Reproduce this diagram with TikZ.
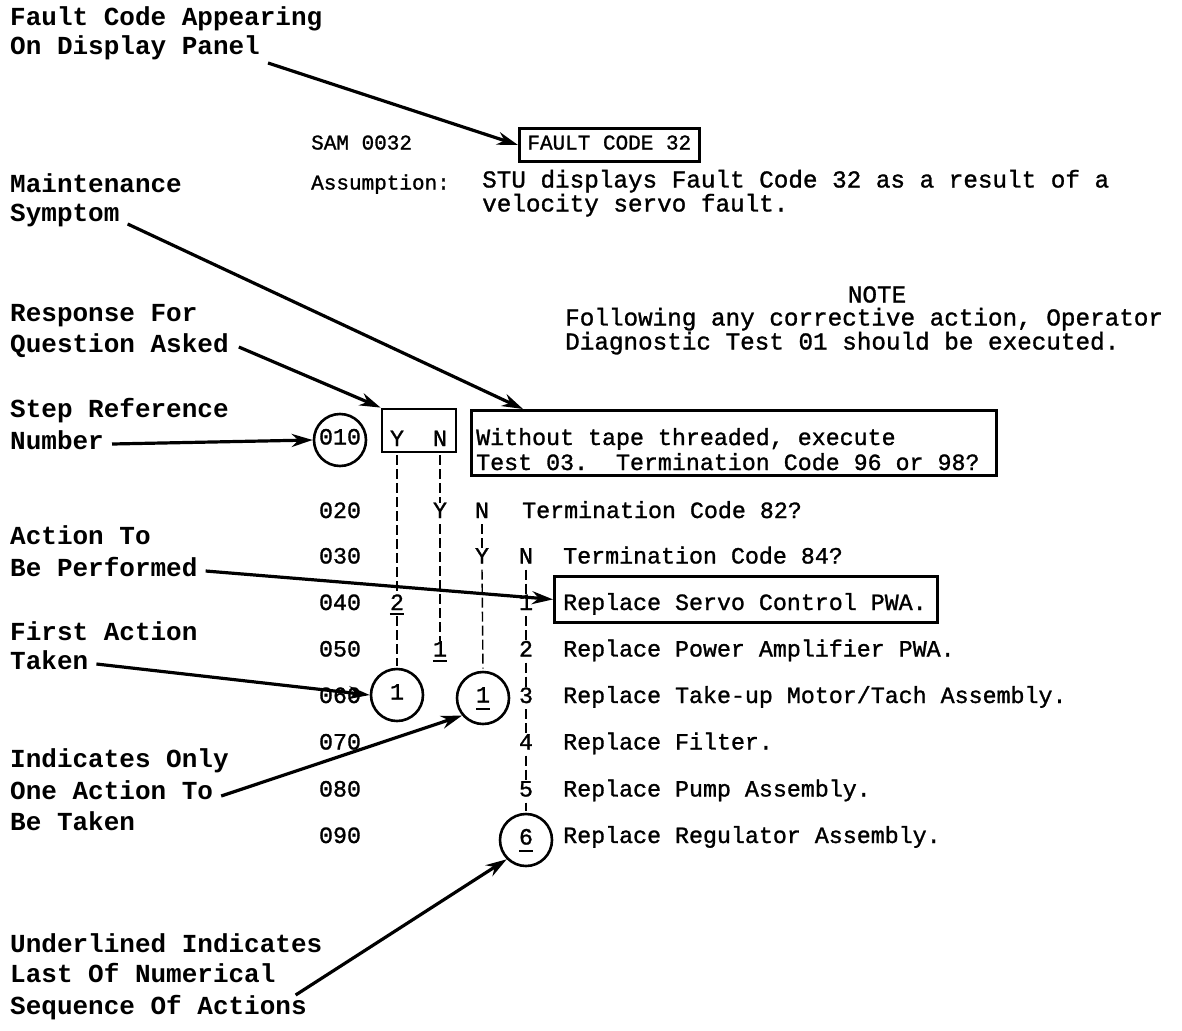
\documentclass[tikz,border=0pt]{standalone}
\usepackage{fontspec}
\newfontfamily\typ{Liberation Mono}
\newfontfamily\typm{Liberation Mono}[FakeBold=1.2]
\usetikzlibrary{arrows.meta}
\begin{document}
\frenchspacing
\begin{tikzpicture}[x=1pt,y=-1pt,
  lab/.style={font=\fontsize{26}{30}\selectfont\typ\bfseries, anchor=west, inner sep=0pt, text height=15pt, text depth=4pt},
  txt/.style={font=\fontsize{23.3}{25}\selectfont\typm, inner sep=0pt, text height=13pt, text depth=4pt},
  ltxt/.style={txt, anchor=west},
  htxt/.style={ltxt, font=\fontsize{24.3}{25}\selectfont\typm, text height=12pt, text depth=3pt},
  stxt/.style={ltxt, font=\fontsize{21}{25}\selectfont\typm},
  arr/.style={line width=3.2pt, -{Stealth[length=21pt,width=13pt]}},
  dl/.style={line width=1.4pt, dash pattern=on 10pt off 4pt, shorten <=2pt, shorten >=2pt},
  ring/.style={txt, circle, draw, line width=2.6pt, minimum size=52pt, inner sep=0pt},
  boxd/.style={draw, line width=2.8pt},
  ul/.style={line width=2pt}
]
\useasboundingbox[fill=white] (0,0) rectangle (1182,1030);

% ---- left labels
\node[lab] (fa1) at (10,20) {Fault Code Appearing};
\node[lab] (fa2) at (10,49) {On Display Panel};
\node[lab] (ms1) at (10,187) {Maintenance};
\node[lab] (ms2) at (10,216) {Symptom};
\node[lab] (rq1) at (10,316) {Response For};
\node[lab] (rq2) at (10,347) {Question Asked};
\node[lab] (sr1) at (10,412) {Step Reference};
\node[lab] (sr2) at (10,444) {Number};
\node[lab] (ap1) at (10,539) {Action To};
\node[lab] (ap2) at (10,571) {Be Performed};
\node[lab] (ft1) at (10,635) {First Action};
\node[lab] (ft2) at (10,664) {Taken};
\node[lab] (io1) at (10,762) {Indicates Only};
\node[lab] (io2) at (10,794) {One Action To};
\node[lab] (io3) at (10,825) {Be Taken};
\node[lab] (ul1) at (10,947) {Underlined Indicates};
\node[lab] (ul2) at (10,977) {Last Of Numerical};
\node[lab] (ul3) at (10,1009) {Sequence Of Actions};

% ---- header
\node[stxt] (sam) at (311,145) {SAM 0032};
\node[stxt, boxd, inner xsep=8pt, inner ysep=8pt] (fc) at (518,145) {FAULT CODE 32};
\node[stxt] (asm) at (311,185) {Assumption:};
\node[htxt] (stu1) at (482,183) {STU displays Fault Code 32 as a result of a};
\node[htxt] (stu2) at (482,207) {velocity servo fault.};
\node[htxt, anchor=center] (note) at (877,298) {NOTE};
\node[htxt] (fol1) at (565,321) {Following any corrective action, Operator};
\node[htxt] (fol2) at (565,345) {Diagnostic Test 01 should be executed.};

% ---- step 010
\node[ring] (c010) at (340,440) {010};
\node[boxd, minimum width=74pt, minimum height=43pt, inner sep=0pt] (yn) at (419,430.5) {};
\node[txt] (y010) at (397,441.5) {Y};
\node[txt] (n010) at (440,441.5) {N};
\node[boxd, minimum width=525pt, minimum height=65pt, anchor=north west, inner sep=0pt] (q010) at (470,409) {};
\node[ltxt] (q1) at (476,440.5) {Without tape threaded, execute};
\node[ltxt] (q2) at (476,465.5) {Test 03.~ Termination Code 96 or 98?};

% ---- step 020
\node[txt] (s020) at (340,513.5) {020};
\node[txt] (y020) at (440,513.5) {Y};
\node[txt] (n020) at (482,513.5) {N};
\node[ltxt] (t020) at (522,513.5) {Termination Code 82?};

% ---- step 030
\node[txt] (s030) at (340,559) {030};
\node[txt] (y030) at (482,559) {Y};
\node[txt] (n030) at (526,559) {N};
\node[ltxt] (t030) at (563,559) {Termination Code 84?};

% ---- step 040
\node[txt] (s040) at (340,605.5) {040};
\node[txt] (a040a) at (397,605.5) {2};
\node[txt] (a040d) at (526,605.5) {1};
\node[boxd, minimum width=383pt, minimum height=46pt, anchor=north west, inner sep=0pt] (r040) at (553,575) {};
\node[ltxt] (t040) at (563,605.5) {Replace Servo Control PWA.};

% ---- step 050
\node[txt] (s050) at (340,652) {050};
\node[txt] (a050b) at (440,652) {1};
\node[txt] (a050d) at (526,652) {2};
\node[ltxt] (t050) at (563,652) {Replace Power Amplifier PWA.};

% ---- step 060
\node[txt] (s060) at (340,698.5) {060};
\node[ring] (c060a) at (397,695) {1};
\node[ring] (c060b) at (483,698) {1};
\node[txt] (a060d) at (526,698.5) {3};
\node[ltxt] (t060) at (563,698.5) {Replace Take-up Motor/Tach Assembly.};

% ---- step 070
\node[txt] (s070) at (340,745) {070};
\node[txt] (a070d) at (526,745) {4};
\node[ltxt] (t070) at (563,745) {Replace Filter.};

% ---- step 080
\node[txt] (s080) at (340,792) {080};
\node[txt] (a080d) at (526,792) {5};
\node[ltxt] (t080) at (563,792) {Replace Pump Assembly.};

% ---- step 090
\node[txt] (s090) at (340,838.5) {090};
\node[ring] (c090) at (526,840) {6};
\node[ltxt] (t090) at (563,838.5) {Replace Regulator Assembly.};

% ---- underlines
\draw[ul] (a040a.south west) -- (a040a.south east);
\draw[ul] (a050b.south west) -- (a050b.south east);
\draw[ul] ([shift={(-7,11)}]c060b.center) -- ++(14,0);
\draw[ul] ([shift={(-7,11)}]c090.center) -- ++(14,0);

% ---- dashed response columns
\draw[dl] (yn.south -| y010) -- (a040a.north);
\draw[dl] (a040a.south) -- (c060a.north);
\draw[dl] (yn.south -| n010) -- (y020.north);
\draw[dl] (y020.south) -- (a050b.north);
\draw[dl] (n020.south) -- (y030.north);
\draw[dl] (y030.south) -- (c060b.north);
\draw[dl] (n030.south) -- (a040d.north);
\draw[dl] (a040d.south) -- (a050d.north);
\draw[dl] (a050d.south) -- (a060d.north);
\draw[dl] (a060d.south) -- (a070d.north);
\draw[dl] (a070d.south) -- (a080d.north);
\draw[dl] (a080d.south) -- (c090.north);

% ---- callout arrows
\draw[arr] ([shift={(8,14)}]fa2.east) -- (fc.west);
\draw[arr] ([shift={(8,8)}]ms2.east) -- ([xshift=53pt]q010.north west);
\draw[arr] ([shift={(10,0)}]rq2.east) -- (yn.north west);
\draw[arr] ([shift={(8,0)}]sr2.east) -- (c010.west);
\draw[arr] ([shift={(8,0)}]ap2.east) -- (r040.west);
\draw[arr] ([shift={(8,0)}]ft2.east) -- (c060a.west);
\draw[arr] ([shift={(8,2)}]io2.east) -- (c060b.220);
\draw[arr] ([shift={(20,18)}]ul2.east) -- (c090.225);
\end{tikzpicture}
\end{document}
